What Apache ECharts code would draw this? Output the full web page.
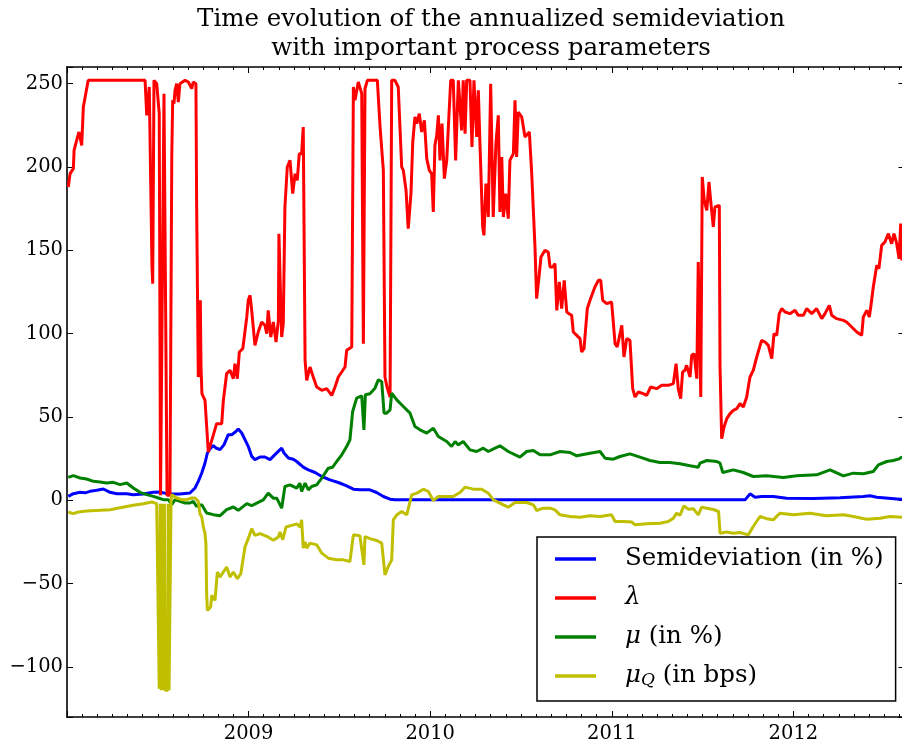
<!DOCTYPE html>
<html><head><meta charset="utf-8">
<script src="https://cdn.jsdelivr.net/npm/echarts@6/dist/echarts.min.js"></script>
<style>html,body{margin:0;padding:0;background:#fff}#c{width:902px;height:746px}</style>
</head><body><div id="c"></div>
<script>
// ---- data (decimal years) ----
const yearTicks = [2009, 2010, 2011, 2012];

const semiYears = [2008.007,2008.035,2008.072,2008.099,2008.127,2008.164,2008.200,2008.237,2008.274,2008.329,2008.365,2008.420,2008.475,2008.512,2008.549,2008.585,2008.622,2008.677,2008.705,2008.723,2008.742,2008.760,2008.773,2008.791,2008.806,2008.820,2008.843,2008.865,2008.888,2008.907,2008.925,2008.943,2008.962,2008.980,2008.998,2009.017,2009.035,2009.063,2009.090,2009.118,2009.145,2009.182,2009.195,2009.219,2009.246,2009.265,2009.301,2009.329,2009.366,2009.403,2009.448,2009.494,2009.540,2009.577,2009.613,2009.668,2009.705,2009.742,2009.779,2009.806,2011.734,2011.761,2011.789,2011.825,2011.889,2011.963,2012.110,2012.257,2012.385,2012.422,2012.459,2012.587,2012.609];
const semiValues = [2.4,4,4.8,4.5,5.4,6,6.8,4.8,4,4,3.4,3.8,4.8,5,4,3.8,3.8,4.4,7.4,11.4,16.4,22.4,28.4,31.4,32.8,31.4,30.4,33.4,39.4,39.4,40.8,42.8,40.4,36.4,32.4,26.4,24.4,26,26,24.4,27.4,31.3,28.4,25.4,24.7,23.3,19.9,18.3,16.7,14.3,12.3,10.7,8.7,6.7,6.3,6.3,4.7,2.3,0.7,0.3,0.3,3.9,1.9,2.3,2.3,1.3,1.1,1.5,2.3,2.7,1.9,0.7,0.6];

const lambdaYears = [2008.007,2008.017,2008.035,2008.039,2008.053,2008.066,2008.081,2008.090,2008.105,2008.117,
2008.430,2008.439,2008.453,2008.468,2008.472,2008.479,2008.494,2008.508,2008.515,2008.526,
2008.534,2008.551,2008.567,2008.577,2008.582,2008.589,2008.595,2008.604,2008.613,2008.622,
2008.650,2008.668,2008.687,2008.695,2008.710,2008.714,2008.717,2008.723,2008.730,2008.734,
2008.738,2008.743,2008.760,2008.778,2008.797,2008.824,2008.852,2008.861,2008.879,2008.898,
2008.916,2008.925,2008.938,2008.949,2008.968,2008.990,2008.998,2009.008,2009.017,2009.035,
2009.053,2009.072,2009.090,2009.100,2009.108,2009.122,2009.136,2009.151,2009.164,2009.167,
2009.173,2009.182,2009.191,2009.200,2009.213,2009.228,2009.243,2009.256,2009.268,2009.279,
2009.292,2009.301,2009.308,2009.311,2009.320,2009.338,2009.356,2009.375,2009.403,2009.430,
2009.458,2009.476,2009.494,2009.531,2009.540,2009.568,2009.577,2009.586,2009.604,2009.623,
2009.632,2009.641,2009.654,2009.709,2009.724,2009.742,2009.751,2009.762,2009.779,2009.788,
2009.806,2009.824,2009.843,2009.852,2009.867,2009.879,2009.894,2009.904,2009.916,2009.926,
2009.940,2009.953,2009.968,2009.981,2009.995,2010.008,2010.017,2010.026,2010.036,2010.045,
2010.054,2010.065,2010.078,2010.091,2010.100,2010.113,2010.127,2010.140,2010.155,2010.173,
2010.182,2010.192,2010.201,2010.219,2010.230,2010.241,2010.256,2010.265,2010.274,2010.289,
2010.296,2010.307,2010.320,2010.333,2010.347,2010.362,2010.375,2010.384,2010.394,2010.403,
2010.416,2010.430,2010.439,2010.458,2010.467,2010.476,2010.485,2010.504,2010.522,2010.546,
2010.559,2010.577,2010.586,2010.599,2010.610,2010.632,2010.650,2010.660,2010.675,2010.687,
2010.697,2010.711,2010.724,2010.738,2010.752,2010.764,2010.779,2010.788,2010.807,2010.825,
2010.834,2010.847,2010.865,2010.880,2010.907,2010.926,2010.939,2010.950,2010.972,2010.999,
2011.018,2011.030,2011.055,2011.067,2011.082,2011.100,2011.115,2011.128,2011.146,2011.173,
2011.192,2011.214,2011.247,2011.275,2011.311,2011.339,2011.354,2011.366,2011.379,2011.390,
2011.403,2011.412,2011.431,2011.440,2011.453,2011.468,2011.476,2011.490,2011.498,2011.509,
2011.523,2011.535,2011.546,2011.559,2011.568,2011.578,2011.592,2011.596,2011.605,2011.618,
2011.633,2011.651,2011.669,2011.688,2011.706,2011.724,2011.743,2011.750,2011.761,2011.779,
2011.798,2011.825,2011.844,2011.862,2011.881,2011.893,2011.908,2011.922,2011.936,2011.954,
2011.981,2012.009,2012.027,2012.055,2012.073,2012.101,2012.128,2012.156,2012.174,2012.198,
2012.211,2012.238,2012.275,2012.293,2012.321,2012.349,2012.376,2012.385,2012.404,2012.418,
2012.426,2012.440,2012.459,2012.471,2012.486,2012.504,2012.523,2012.541,2012.554,2012.569,
2012.582,2012.591,2012.598,2012.609];
const lambdaValues = [188,196,199,210,216,221,213,236,245,252,
252,231,248,140,130,252,250,232,3,3,
244,3,3,207,240,238,246,250,239,250,
252,251,247,251,250,176,176,74,82,120,
80,64,60,29,36,46,46,60,76,78,
73,82,73,89,91,110,120,123,114,93,
101,107,105,100,114,98,107,95,108,160,
160,98,106,176,200,204,184,196,192,208,
208,224,224,84,72,80,74,68,66,67,
63,68,74,80,90,92,248,240,251,244,
94,247,252,252,224,198,74,68,62,252,
252,248,200,198,186,163,184,215,230,226,
232,221,228,205,198,196,173,213,219,231,
204,226,193,204,224,252,252,204,252,222,
252,220,252,252,212,252,218,246,214,164,
159,190,170,250,170,214,231,173,206,170,
184,169,204,208,240,206,233,230,218,221,
196,152,121,134,146,150,149,140,140,142,
114,131,115,132,113,112,111,101,99,97,
89,91,115,120,128,132,132,120,118,119,
94,92,105,86,97,96,67,62,65,64,
63,68,67,69,69,70,82,67,61,77,
78,81,74,87,88,73,143,62,194,180,
174,191,178,164,176,177,177,80,37,44,
49,52,54,55,58,56,62,67,74,78,
86,96,95,93,85,100,99,112,115,113,
112,114,111,111,115,112,115,109,112,117,
111,109,108,107,104,101,99,110,114,110,
116,128,141,139,153,155,160,154,160,154,
145,166,144,150];

const muYears = [2008.007,2008.035,2008.072,2008.108,2008.145,2008.182,2008.219,2008.255,2008.292,2008.329,
2008.365,2008.402,2008.439,2008.475,2008.503,2008.530,2008.558,2008.577,2008.595,2008.622,
2008.650,2008.677,2008.695,2008.714,2008.742,2008.769,2008.806,2008.843,2008.879,2008.916,
2008.943,2008.990,2009.017,2009.045,2009.081,2009.108,2009.136,2009.155,2009.182,2009.200,
2009.228,2009.265,2009.283,2009.292,2009.311,2009.329,2009.347,2009.375,2009.403,2009.439,
2009.463,2009.485,2009.513,2009.540,2009.558,2009.573,2009.595,2009.623,2009.635,2009.643,
2009.668,2009.696,2009.714,2009.733,2009.746,2009.760,2009.779,2009.788,2009.816,2009.852,
2009.889,2009.916,2009.944,2009.981,2010.017,2010.045,2010.091,2010.118,2010.137,2010.155,
2010.182,2010.219,2010.256,2010.292,2010.320,2010.357,2010.384,2010.430,2010.494,2010.531,
2010.568,2010.605,2010.660,2010.715,2010.770,2010.807,2010.880,2010.935,2010.963,2011.008,
2011.045,2011.100,2011.155,2011.210,2011.265,2011.320,2011.375,2011.431,2011.476,2011.486,
2011.523,2011.578,2011.596,2011.611,2011.669,2011.724,2011.779,2011.853,2011.944,2012.018,
2012.128,2012.202,2012.275,2012.330,2012.385,2012.440,2012.468,2012.514,2012.550,2012.578,
2012.596,2012.609];
const muValues = [13.8,14.8,13.4,12.8,11.4,11,10.4,10.8,9.4,10.4,
7.4,4.8,3.4,2.4,1.4,0.4,0.4,-2.6,0.4,-0.6,
-1.6,-1.6,-0.6,-3.6,-2.6,-7.6,-8.6,-9.2,-5.6,-4,
-6,-2,-3.2,-1.7,0.3,4.3,1.3,1.3,-4.7,8.3,
9.3,7.3,10.3,5.3,10.3,6.3,8.3,9.3,13.3,19.3,
19.9,23.3,27.3,32.3,36.3,53.3,61.3,62.7,42.3,63.3,
63.9,67.3,72.3,71.3,52.3,52.3,54.3,64.3,60.3,56.3,
52.3,44.3,42.3,40.3,43.3,38.3,35.3,32.3,35.3,33.3,
35.3,30.3,29.3,31.3,29.3,31.3,32.7,29.3,25.9,29.3,
29.9,27.3,27.3,29.3,28.7,26.7,28.3,29.3,25.3,24.7,
26.3,27.9,25.9,23.9,22.7,22.7,21.9,20.7,19.9,22.3,
23.9,23.3,22.3,16.7,18.3,16.7,14.3,14.7,13.7,14.7,
15.3,18.3,14.7,16.3,15.9,17.3,21.3,23.3,23.9,24.7,
25.9,25.5];

const muQYears = [2008.007,2008.035,2008.062,2008.108,2008.182,2008.237,2008.292,2008.365,2008.420,2008.466,
2008.494,2008.505,2008.508,2008.514,2008.519,2008.525,2008.530,2008.536,2008.541,2008.548,
2008.555,2008.557,2008.562,2008.570,2008.573,2008.577,
2008.604,2008.632,2008.659,2008.687,2008.705,2008.723,2008.732,2008.742,2008.751,2008.760,
2008.765,2008.769,2008.773,2008.791,2008.797,2008.815,2008.828,2008.843,2008.861,2008.879,
2008.898,2008.916,2008.938,2008.957,2008.980,2008.998,2009.017,2009.035,2009.063,2009.100,
2009.136,2009.164,2009.173,2009.188,2009.206,2009.237,2009.265,2009.283,2009.292,2009.301,
2009.311,2009.320,2009.338,2009.375,2009.403,2009.439,2009.485,2009.522,2009.558,2009.577,
2009.613,2009.635,2009.641,2009.668,2009.705,2009.733,2009.751,2009.769,2009.788,2009.797,
2009.816,2009.843,2009.871,2009.898,2009.926,2009.962,2009.990,2010.017,2010.045,2010.091,
2010.127,2010.164,2010.192,2010.237,2010.284,2010.320,2010.348,2010.403,2010.430,2010.467,
2010.531,2010.568,2010.586,2010.623,2010.660,2010.687,2010.715,2010.770,2010.825,2010.880,
2010.935,2010.999,2011.018,2011.063,2011.110,2011.128,2011.192,2011.265,2011.311,2011.339,
2011.357,2011.375,2011.397,2011.421,2011.449,2011.476,2011.495,2011.523,2011.559,2011.588,
2011.596,2011.605,2011.633,2011.669,2011.706,2011.752,2011.779,2011.816,2011.853,2011.889,
2011.926,2012.000,2012.091,2012.183,2012.275,2012.330,2012.404,2012.477,2012.532,2012.598,
2012.609];
const muQValues = [-7,-8,-7,-6.4,-6,-5.6,-4.4,-3,-2,-1,
-2,-2,-113,-2,-114,-2,-114,-2,-114,-114,
-114,-2,-114,-115,0,3.4,
1.4,0.4,0.4,1.4,1.4,-0.6,-8,-10,-16,-20,
-26,-56,-66,-64,-57,-60,-43,-46,-43,-40,
-46,-43,-47,-44,-28,-23,-17,-21,-20,-21.6,
-24,-22,-19,-23.6,-16,-15,-14.1,-16,-11.7,-28.7,
-25,-28.7,-25.7,-26.7,-31.7,-34.7,-35.7,-35.7,-36.7,-20.7,
-21.3,-38.7,-21.7,-23,-24.1,-25.7,-44.7,-39.7,-35.7,-11.7,
-8.7,-6.7,-8.7,3.3,4.3,6.7,5.3,-0.1,2.3,2.3,
2.3,4.7,7.9,6.7,6.7,4.3,0.3,-2.7,-4.1,-1.3,
-1.3,-2.7,-6.1,-4.7,-4.7,-5.7,-8.7,-9.7,-10.1,-9.3,
-9.7,-8.7,-12.7,-12.7,-13,-14.7,-14,-13.7,-12.7,-10.7,
-7.7,-9,-3.3,-5.3,-5,-8.7,-4.1,-4.7,-5.5,-6.7,
-19.7,-20.7,-19,-19.7,-19.3,-20.7,-15.7,-9.7,-11,-11.7,
-7.7,-8.7,-7.7,-9.3,-8.7,-9.7,-11.3,-10.7,-9.7,-10.1,
-10.3];

const seriesNames = ['Semideviation (in %)', 'λ', 'μ (in %)', 'μQ (in bps)'];
const seriesColors = ['#0000ff', '#ff0000', '#008000', '#bfbf00'];

// ---- chart ----
const FONT = 'DejaVu Serif';
const zip = (xs, ys) => xs.map((x, i) => [x, ys[i]]);
const seriesData = [zip(semiYears, semiValues), zip(lambdaYears, lambdaValues), zip(muYears, muValues), zip(muQYears, muQValues)];

const chart = echarts.init(document.getElementById('c'), null, {renderer: 'canvas'});

const tickCommon = {inside: true, length: 6, lineStyle: {color: '#000', width: 1}};
const minorCommon = {show: true, splitNumber: 12, length: 3, lineStyle: {color: '#000', width: 1}};
const lineCommon = {onZero: false, lineStyle: {color: '#000', width: 1.6}};

chart.setOption({
  animation: false,
  backgroundColor: '#fff',
  title: {
    text: 'Time evolution of the annualized semideviation\nwith important process parameters',
    left: 486, top: 0, textAlign: 'center',
    textStyle: {fontFamily: FONT, fontSize: 24.5, fontWeight: 'normal', color: '#000', lineHeight: 29}
  },
  grid: {left: 67, top: 67, width: 908, height: 650, containLabel: false, outerBoundsMode: 'none'},
  xAxis: [
    {type: 'value', position: 'bottom', min: 2008, max: 2013, interval: 1,
     splitLine: {show: false}, axisLine: lineCommon, axisTick: tickCommon, minorTick: minorCommon,
     axisLabel: {formatter: v => yearTicks.includes(v) ? String(v) : '', fontFamily: FONT, fontSize: 19.5, color: '#000', margin: 7}},
    {type: 'value', position: 'top', min: 2008, max: 2013, interval: 1,
     splitLine: {show: false}, axisLine: lineCommon, axisTick: tickCommon, minorTick: minorCommon,
     axisLabel: {show: false}}
  ],
  yAxis: [
    {type: 'value', position: 'left', min: -130, max: 260, splitNumber: 8,
     splitLine: {show: false}, axisLine: lineCommon, axisTick: tickCommon,
     axisLabel: {formatter: v => (v % 50 === 0 ? (v < 0 ? '\u2212' + (-v) : String(v)) : ''),
                 fontFamily: FONT, fontSize: 19.5, color: '#000', margin: 4}},
    {type: 'value', position: 'right', offset: -70.5, min: -130, max: 260, splitNumber: 8,
     splitLine: {show: false}, axisLine: lineCommon, axisTick: tickCommon, axisLabel: {show: false}}
  ],
  legend: {
    orient: 'vertical', left: 537, top: 537,
    padding: [9, 12, 12, 18], itemGap: 13, itemWidth: 41, itemHeight: 3.5, icon: 'rect',
    backgroundColor: '#fff', borderColor: '#000', borderWidth: 1.5, borderRadius: 0,
    selectedMode: false,
    data: seriesNames,
    formatter: function (name) {
      if (name === 'λ') return '{g| }{i|λ}';
      if (name === 'μ (in %)') return '{g| }{i|μ} (in %)';
      if (name === 'μQ (in bps)') return '{g| }{i|μ}{s|Q} (in bps)';
      return '{g| }' + name;
    },
    textStyle: {
      fontFamily: FONT, fontSize: 24.5, color: '#000', lineHeight: 26,
      rich: {
        g: {width: 24, fontSize: 24.5, lineHeight: 26},
        i: {fontFamily: FONT, fontStyle: 'italic', fontSize: 24.5, lineHeight: 26},
        s: {fontFamily: FONT, fontStyle: 'italic', fontSize: 17, lineHeight: 18, padding: [9, 0, 0, 0]}
      }
    }
  },
  series: seriesNames.map((name, i) => ({
    name: name, type: 'line', data: seriesData[i], showSymbol: false, symbol: 'none',
    color: seriesColors[i], lineStyle: {color: seriesColors[i], width: 3}, z: 2 + i,
    clip: true
  }))
});
</script>
</body></html>
